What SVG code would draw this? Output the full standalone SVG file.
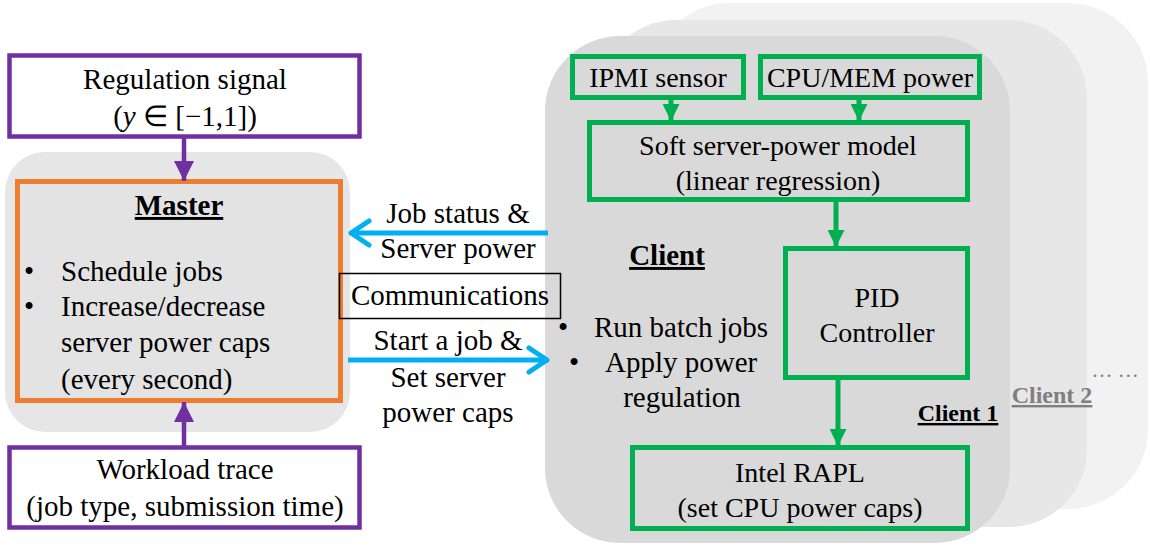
<svg xmlns="http://www.w3.org/2000/svg" width="1150" height="546" viewBox="0 0 1150 546">
  <style>
    text { font-family: "Liberation Serif", "Times New Roman", serif; fill: #000; }
    .t29 { font-size: 29px; }
    .t28 { font-size: 28px; }
    .mid { text-anchor: middle; }
    .bold { font-weight: bold; }
    .purple { fill: #ffffff; stroke: #7030a0; stroke-width: 4.5; }
    .green { fill: none; stroke: #00b050; stroke-width: 5; }
    .gline { stroke: #00b050; stroke-width: 5; fill: none; }
    .pline { stroke: #7030a0; stroke-width: 4.5; fill: none; }
    .bline { stroke: #00b0f0; stroke-width: 5; fill: none; }
  </style>
  <defs>
    <marker id="headPurple" viewBox="0 0 10 10" refX="10" refY="5" markerUnits="userSpaceOnUse" markerWidth="20" markerHeight="20" orient="auto">
      <path d="M0,0 L10,5 L0,10 Z" fill="#7030a0"/>
    </marker>
    <marker id="headGreen" viewBox="0 0 10 10" refX="10" refY="5" markerUnits="userSpaceOnUse" markerWidth="17" markerHeight="17" orient="auto">
      <path d="M0,0 L10,5 L0,10 Z" fill="#00b050"/>
    </marker>
    <marker id="headBlue" viewBox="0 0 24 30" refX="22" refY="15" markerUnits="userSpaceOnUse" markerWidth="24" markerHeight="30" orient="auto">
      <path d="M3,3 L21,15 L3,27" fill="none" stroke="#00b0f0" stroke-width="5" stroke-linecap="round" stroke-linejoin="round"/>
    </marker>
  </defs>

  <!-- stacked client cards -->
  <g id="client-stack">
    <rect x="650" y="3" width="498" height="506" rx="80" fill="#f2f2f2"/>
    <rect x="598" y="20" width="489" height="507" rx="78" fill="#e7e7e7"/>
    <rect x="545" y="36" width="465" height="507" rx="75" fill="#d9d9d9"/>
  </g>

  <!-- master panel -->
  <g id="master">
    <rect x="5" y="152" width="345" height="280" rx="40" fill="#e6e6e6"/>
    <rect x="17.5" y="181.5" width="323" height="219" fill="#e3e3e3" stroke="#ed7d31" stroke-width="5"/>
    <text class="t29 mid bold" x="179" y="215" text-decoration="underline">Master</text>
    <text class="t29" x="24" y="281">•</text>
    <text class="t29" x="61" y="281">Schedule jobs</text>
    <text class="t29" x="24" y="316">•</text>
    <text class="t29" x="61" y="316">Increase/decrease</text>
    <text class="t29" x="61" y="352">server power caps</text>
    <text class="t29" x="61" y="389">(every second)</text>
  </g>

  <g id="regulation-signal">
    <rect class="purple" x="9.5" y="55.5" width="350" height="81"/>
    <text class="t29 mid" x="185" y="89">Regulation signal</text>
    <text class="t29 mid" x="185" y="126">(<tspan font-style="italic">y</tspan> ∈ [−1,1])</text>
  </g>

  <g id="workload-trace">
    <rect class="purple" x="9.5" y="447.5" width="350" height="80"/>
    <text class="t29 mid" x="185" y="479">Workload trace</text>
    <text class="t29 mid" x="185" y="516">(job type, submission time)</text>
  </g>

  <g id="communications">
    <rect x="339.5" y="273.5" width="221" height="45" fill="none" stroke="#000" stroke-width="1.5"/>
    <text class="t29 mid" x="450" y="305">Communications</text>
    <text class="t29 mid" x="458" y="223">Job status &amp;</text>
    <text class="t29 mid" x="458" y="258">Server power</text>
    <text class="t29 mid" x="448" y="350">Start a job &amp;</text>
    <text class="t29 mid" x="448" y="387">Set server</text>
    <text class="t29 mid" x="448" y="422">power caps</text>
  </g>

  <!-- client 1 contents -->
  <g id="client-label">
    <text class="t29 mid bold" x="667" y="265" text-decoration="underline">Client</text>
    <text class="t29" x="558" y="337">•</text>
    <text class="t29" x="594" y="337">Run batch jobs</text>
    <text class="t29" x="569" y="372">•</text>
    <text class="t29" x="605" y="372">Apply power</text>
    <text class="t29 mid" x="682" y="407">regulation</text>
  </g>

  <g id="ipmi-sensor">
    <rect class="green" x="572.5" y="56.5" width="171" height="41"/>
    <text class="t28 mid" x="658" y="87">IPMI sensor</text>
  </g>
  <g id="cpu-mem-power">
    <rect class="green" x="760.5" y="56.5" width="219" height="41"/>
    <text class="t28 mid" x="870" y="87">CPU/MEM power</text>
  </g>
  <g id="power-model">
    <rect class="green" x="589.5" y="122.5" width="378" height="77"/>
    <text class="t28 mid" x="778" y="155">Soft server-power model</text>
    <text class="t28 mid" x="778" y="190">(linear regression)</text>
  </g>
  <g id="pid-controller">
    <rect class="green" x="785.5" y="248.5" width="182" height="129"/>
    <text class="t28 mid" x="877" y="307">PID</text>
    <text class="t28 mid" x="877" y="342">Controller</text>
  </g>
  <g id="intel-rapl">
    <rect class="green" x="632.5" y="447.5" width="335" height="81"/>
    <text class="t28 mid" x="800" y="482">Intel RAPL</text>
    <text class="t28 mid" x="800" y="517">(set CPU power caps)</text>
  </g>

  <g id="client-names">
    <text class="bold mid" x="958" y="421" font-size="24" text-decoration="underline">Client 1</text>
    <text class="bold mid" x="1052" y="403" font-size="24" text-decoration="underline" style="fill:#7f7f7f">Client 2</text>
    <text x="1115" y="377" font-size="21" class="mid" style="fill:#7f7f7f">… …</text>
  </g>

  <!-- connectors -->
  <g id="connectors">
    <line class="pline" x1="184" y1="137" x2="184" y2="181" marker-end="url(#headPurple)"/>
    <line class="pline" x1="184" y1="446" x2="184" y2="402" marker-end="url(#headPurple)"/>
    <line class="bline" x1="548" y1="233" x2="350" y2="233" marker-end="url(#headBlue)"/>
    <line class="bline" x1="348" y1="360" x2="548" y2="360" marker-end="url(#headBlue)"/>
    <line class="gline" x1="671" y1="100" x2="671" y2="121" marker-end="url(#headGreen)"/>
    <line class="gline" x1="859" y1="100" x2="859" y2="121" marker-end="url(#headGreen)"/>
    <line class="gline" x1="836" y1="202" x2="836" y2="247" marker-end="url(#headGreen)"/>
    <line class="gline" x1="838" y1="380" x2="838" y2="446" marker-end="url(#headGreen)"/>
  </g>
</svg>
